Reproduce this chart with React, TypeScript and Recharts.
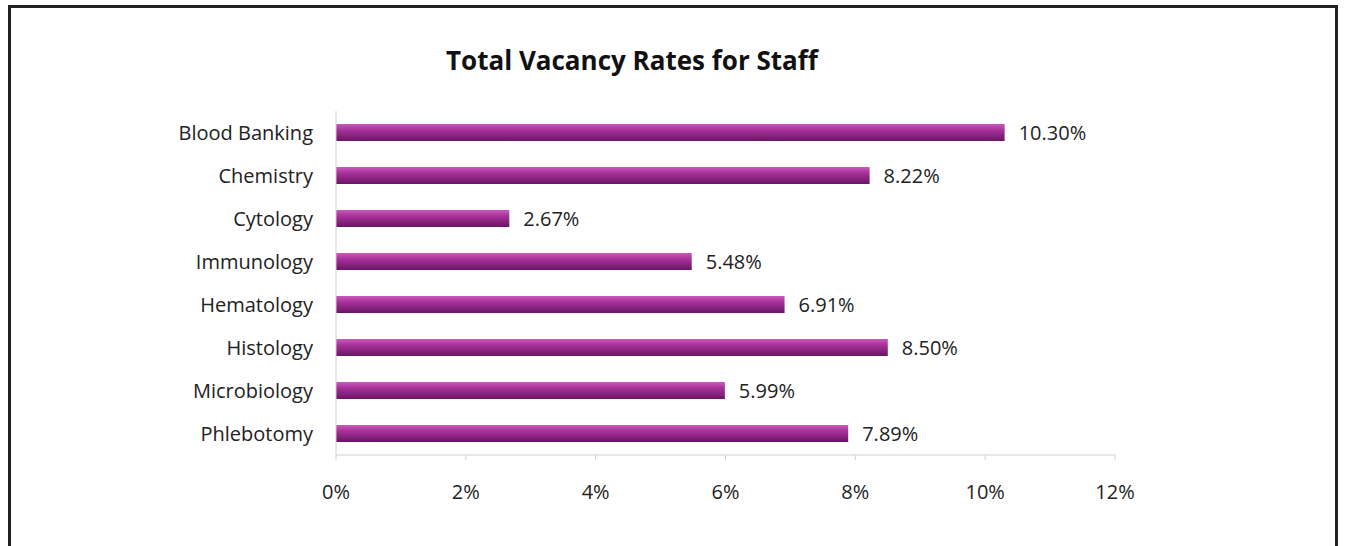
import { BarChart, Bar, XAxis, YAxis, LabelList } from 'recharts'

const categories = [
  'Blood Banking',
  'Chemistry',
  'Cytology',
  'Immunology',
  'Hematology',
  'Histology',
  'Microbiology',
  'Phlebotomy',
]
const vacancyRates = [10.3, 8.22, 2.67, 5.48, 6.91, 8.5, 5.99, 7.89]
const xTicks = [0, 2, 4, 6, 8, 10, 12]

const data = categories.map((name, i) => ({ name, rate: vacancyRates[i] }))

const FONT = '"Open Sans", Lato, sans-serif'

export default function App() {
  return (
    <div style={{ position: 'absolute', left: 0, top: 0, width: 1347, height: 546, background: '#fff', fontFamily: FONT }}>
      {/* frame */}
      <div
        style={{
          position: 'absolute',
          left: 8,
          top: 5,
          width: 1330,
          height: 560,
          borderLeft: '3px solid #222',
          borderTop: '3px solid #222',
          borderRight: '3px solid #222',
          boxSizing: 'border-box',
        }}
      />
      <div
        style={{
          position: 'absolute',
          left: 0,
          width: 1264,
          top: 42,
          textAlign: 'center',
          fontSize: 26,
          fontWeight: 700,
          color: '#111',
          lineHeight: '36px',
        }}
      >
        Total Vacancy Rates for Staff
      </div>
      <div style={{ position: 'absolute', left: 0, top: 0 }}>
        <BarChart
          width={1347}
          height={546}
          data={data}
          layout="vertical"
          margin={{ top: 111, right: 232, bottom: 31, left: 0 }}
          barSize={17}
        >
          <defs>
            <linearGradient id="barGrad" x1="0" y1="0" x2="0" y2="1">
              <stop offset="0%" stopColor="#c95bbd" />
              <stop offset="35%" stopColor="#a8329a" />
              <stop offset="100%" stopColor="#6a1566" />
            </linearGradient>
          </defs>
          <XAxis
            type="number"
            domain={[0, 12]}
            ticks={xTicks}
            tickFormatter={(v: number) => `${v}%`}
            axisLine={{ stroke: '#cfcfcf' }}
            tickLine={{ stroke: '#cfcfcf' }}
            tickSize={5}
            tickMargin={25}
            height={60}
            tick={{ fill: '#222', fontSize: 20, fontFamily: FONT }}
          />
          <YAxis
            type="category"
            dataKey="name"
            width={336}
            axisLine={{ stroke: '#cfcfcf' }}
            tickLine={false}
            tickMargin={17}
            tick={{ fill: '#222', fontSize: 20, fontFamily: FONT }}
          />
          <Bar dataKey="rate" fill="url(#barGrad)" isAnimationActive={false}>
            <LabelList
              dataKey="rate"
              position="right"
              offset={14}
              formatter={(v: number) => `${v.toFixed(2)}%`}
              style={{ fill: '#222', fontSize: 20, fontFamily: FONT }}
            />
          </Bar>
        </BarChart>
      </div>
    </div>
  )
}
